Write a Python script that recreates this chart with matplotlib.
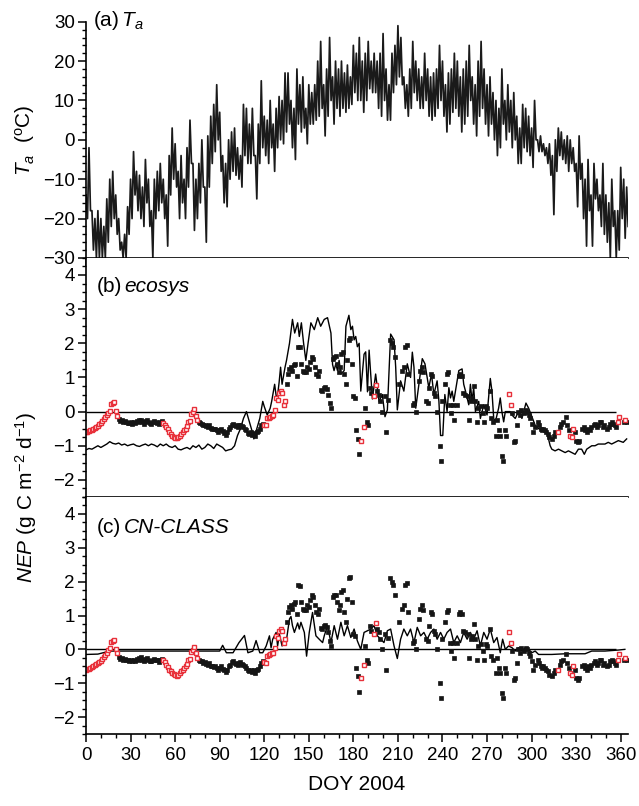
import matplotlib
matplotlib.use('Agg')
import matplotlib.pyplot as plt
from matplotlib.ticker import MultipleLocator
import numpy as np

plt.rcParams['font.family'] = ['Liberation Sans', 'DejaVu Sans']
plt.rcParams['mathtext.fontset'] = 'custom'
plt.rcParams['mathtext.rm'] = 'Liberation Sans'
plt.rcParams['mathtext.it'] = 'Liberation Sans:italic'

# air temperature, 2-day steps: upper and lower envelope
ta_hi = [-14, -2, -18, -20, -18, -20, -22, -15, -10, -8,
         -14, -20, -26, -24, -17, -10, -3, -8, -9, -12,
         -5, -10, -18, -10, -8, -6, -10, -14, -4, 3,
         -1, -8, -4, -10, -2, 5, -6, -10, -6, 0,
         -12, 1, 6, 9, 14, 7, -4, -6, 0, 2,
         3, -2, -4, 9, 8, 4, 8, -4, 4, 15,
         6, 5, 10, 4, 8, 11, 10, 17, 17, 10,
         8, 18, 14, 16, 8, 14, 12, 14, 20, 25,
         14, 18, 26, 16, 20, 18, 20, 17, 19, 16,
         24, 22, 26, 20, 22, 25, 20, 22, 20, 22,
         27, 18, 14, 22, 24, 29, 26, 16, 14, 18,
         25, 20, 18, 16, 22, 18, 16, 17, 18, 24,
         20, 14, 17, 18, 22, 20, 16, 18, 20, 24,
         16, 14, 20, 25, 18, 14, 16, 12, 10, 8,
         18, 10, 14, 10, 12, 6, 3, 9, 8, 6,
         3, 10, 0, 1, -1, -2, -1, -4, 0, 3,
         2, 0, 1, 0, -2, -6, 1, -6, -10, -5,
         -14, -6, -10, -14, -6, -14, -16, -10, -18, -18,
         -7, -10, -12]
ta_lo = [-20, -18, -28, -30, -30, -30, -30, -26, -22, -20,
         -24, -28, -30, -30, -24, -20, -14, -18, -20, -22,
         -16, -22, -30, -20, -18, -16, -20, -27, -14, -10,
         -12, -20, -16, -20, -12, -6, -23, -20, -16, -12,
         -26, -12, -6, -3, 0, -8, -16, -17, -10, -8,
         -9, -10, -12, -4, -6, -6, -4, -15, -6, -2,
         -4, -6, -2, -8, -2, 0, -1, 2, 4, -2,
         -5, 4, 2, 3, -1, 4, 4, 5, 6, 8,
         1, 6, 10, 4, 8, 6, 8, 7, 8, 9,
         12, 10, 10, 7, 10, 13, 12, 12, 8, 6,
         10, 5, 5, 12, 14, 16, 14, 8, 6, 8,
         12, 10, 8, 8, 10, 6, 5, 6, 8, 10,
         6, 2, 4, 7, 8, 6, 2, 4, 6, 10,
         4, 1, 6, 8, 4, 1, 4, 0, -4, -2,
         4, 0, 2, -2, 0, -6, -6, -2, -3, -4,
         -7, 0, -3, -3, -4, -6, -9, -19, -8, -4,
         -5, -6, -8, -6, -8, -17, -10, -20, -27, -18,
         -27, -15, -18, -22, -24, -26, -30, -22, -30, -28,
         -20, -25, -22]

# measured NEP (g C m-2 d-1), daily for DOY 0-181
nep_obs_early = [-0.60, -0.59, -0.57, -0.55, -0.53, -0.50, -0.47, -0.44, -0.41, -0.37,
                 -0.33, -0.28, -0.23, -0.17, -0.10, -0.03, 0.03, 0.22, 0.26, 0.27,
                 0.02, -0.12,
                 -0.22, -0.28, -0.25, -0.30, -0.28, -0.30, -0.32, -0.33, -0.30, -0.35,
                 -0.30, -0.33, -0.28, -0.30, -0.26, -0.24, -0.30, -0.35, -0.28, -0.26,
                 -0.30, -0.33, -0.35, -0.30, -0.27, -0.30, -0.32, -0.36, -0.30, -0.28,
                 -0.32, -0.38, -0.45, -0.52, -0.60, -0.65, -0.70, -0.74, -0.77, -0.78,
                 -0.75, -0.70, -0.65, -0.60, -0.55, -0.50, -0.42, -0.30, -0.28, -0.08,
                 -0.02, 0.07, -0.12, -0.25,
                 -0.30, -0.33, -0.35, -0.40, -0.38, -0.42, -0.45, -0.40, -0.48, -0.50,
                 -0.52, -0.50, -0.55, -0.60, -0.55, -0.50, -0.58, -0.62, -0.68, -0.60,
                 -0.50, -0.45, -0.38, -0.35, -0.40, -0.42, -0.45, -0.40, -0.38, -0.42,
                 -0.45, -0.50, -0.55, -0.62, -0.65, -0.60, -0.68, -0.62, -0.70, -0.60,
                 -0.58, -0.50, -0.40, -0.35,
                 -0.38, -0.40, -0.20, -0.18, -0.15, -0.12, -0.10, 0.05, 0.40, 0.35,
                 0.55, 0.60, 0.55, 0.20, 0.30,
                 0.80, 1.10, 1.25, 1.30, 1.20, 1.35, 1.40, 1.05, 1.90,
                 1.88, 1.40, 1.20, 1.15, 1.17, 1.30, 1.25, 1.45, 1.60, 1.55,
                 1.30, 1.10, 1.05, 1.20, 0.62, 0.60, 0.70, 0.72, 0.65, 0.50,
                 0.25, 0.10, 1.55, 1.60, 1.62, 1.40, 1.15, 1.30, 1.70, 1.75,
                 1.10, 0.80, 1.50, 2.10, 2.15, 1.40, 0.45, 0.40]

# measured NEP after DOY 181
late_day = [182, 183, 184, 185, 187, 188, 189, 190, 191, 192,
            194, 195, 196, 197, 198, 199, 201, 202, 203, 205,
            206, 207, 208, 211, 213, 214, 215, 216, 217, 220,
            221, 222, 224, 225, 226, 227, 229, 230, 231, 232,
            233, 234, 235, 236, 238, 239, 240, 242, 243, 244,
            245, 246, 247, 248, 250, 251, 252, 253, 254, 255,
            257, 258, 259, 260, 261, 262, 263, 264, 266, 267,
            268, 269, 270, 272, 273, 274, 276, 277, 278, 279,
            280, 281, 282, 283, 285, 286, 287, 288, 289, 290,
            291, 292, 293, 295, 296, 297, 298, 299, 300, 301,
            302, 304, 305, 306, 307, 308, 309, 310, 311, 312,
            314, 315, 316, 318, 319, 320, 321, 323, 324, 325,
            326, 327, 328, 329, 330, 331, 332, 334, 335, 336,
            337, 338, 339, 340, 342, 343, 344, 345, 346, 347,
            348, 349, 351, 352, 353, 354, 355, 356, 357, 358,
            359, 362, 363, 364]
nep_obs_late = [-0.55, -0.80, -1.25, -0.85, -0.45, 0.10, -0.30, -0.40, 0.70, 0.55,
                0.45, 0.78, 0.60, 0.50, 0.30, 0.00, 0.45, -0.60, 0.35, 2.10,
                2.00, 1.90, 1.60, 0.80, 1.20, 1.30, 1.90, 1.95, 1.10, 0.20,
                0.25, 0.00, 0.90, 1.20, 1.30, 1.15, 0.30, 0.25, 0.70, 1.10,
                1.05, 0.55, 0.45, 0.00, -1.00, -1.45, 0.30, 0.80, 1.10, 1.15,
                0.20, -0.05, 0.20, -0.25, 0.20, 1.05, 1.10, 1.05, 0.55, 0.50,
                0.45, -0.25, 0.30, 0.40, 0.75, 0.30, -0.30, 0.10, 0.15, -0.05,
                -0.30, 0.15, 0.10, 0.60, -0.20, -0.30, -0.70, -0.25, -0.55, -0.70,
                -1.30, -1.45, -0.55, -0.70, 0.52, 0.20, -0.05, -0.90, -0.85, -0.40,
                0.00, -0.10, 0.05, -0.05, 0.05, 0.00, -0.10, -0.20, -0.35, -0.60,
                -0.45, -0.30, -0.40, -0.50, -0.55, -0.50, -0.55, -0.60, -0.65, -0.75,
                -0.80, -0.70, -0.60, -0.60, -0.45, -0.35, -0.30, -0.15, -0.40, -0.55,
                -0.70, -0.75, -0.50, -0.60, -0.85, -0.90, -0.85, -0.50, -0.45, -0.55,
                -0.60, -0.50, -0.55, -0.45, -0.40, -0.35, -0.45, -0.40, -0.30, -0.30,
                -0.45, -0.40, -0.50, -0.45, -0.35, -0.30, -0.35, -0.40, -0.45, -0.30,
                -0.15, -0.30, -0.25, -0.30]

# days whose NEP is gap-filled (red open squares)
gap_days = (list(range(0, 22)) + list(range(52, 76)) + list(range(120, 135))
            + [185, 187, 194, 195, 285, 286, 318, 326, 327, 328, 358, 359, 363])

# ecosys modelled NEP
eco_day = [0, 2, 4, 6, 8, 10, 12, 14, 16, 18, 20, 22, 24, 26, 28, 30, 32, 34, 36, 38,
           40, 42, 44, 46, 48, 50, 52, 54, 56, 58, 60, 62, 64, 66, 68, 70, 72, 74, 76, 78,
           80, 82, 84, 86, 88, 90, 92, 94, 96, 98, 100, 102, 104, 106, 108, 110, 112, 113,
           115, 117, 119, 120, 122, 124, 125, 127, 128.5, 130, 131, 132, 134, 135, 137,
           139, 140.5, 142.5, 143.6, 145, 146.5, 148, 149.5, 151.4, 153.7, 156, 158,
           160.4, 162.6, 164.9, 166, 167, 168.2, 169.3, 170.4, 171.6, 173.8, 175, 177,
           178.3, 179.4, 180.5, 181.6, 182.7, 183.9, 185, 187.2, 188.3, 189.5, 190.6,
           192.8, 195, 197.3, 199.5, 201.3, 202.9, 205.1, 207.4, 208.5, 209.6, 211.8,
           214, 216.3, 218.5, 219.7, 220.8, 222, 224.1, 226.4, 228.2, 230.8, 232.6,
           234.2, 236.4, 237.6, 238.7, 240.2, 241.6, 243.1, 244.3, 245.4, 246.5, 247.6,
           249.9, 251, 253.2, 254.3, 255.5, 257.7, 258.8, 259.9, 261, 262.2, 264.4,
           265.5, 267.8, 270, 272.2, 273.3, 274.5, 275.6, 277.8, 278.9, 280, 281.2,
           282.3, 285.6, 286.8, 289, 291.2, 293.5, 296.2, 298, 300.2, 302.4, 304.7, 308,
           310.3, 312.5, 313.6, 315.8, 318.1, 320.3, 322.6, 324.8, 327, 329.3, 331.5,
           333.7, 335.5, 337.1, 340.5, 342.7, 344.9, 349.4, 351.6, 353.9, 356.1, 358.4,
           361.7, 364]
eco_nep = [-1.12, -1.08, -1.10, -1.05, -1.00, -1.05, -1.00, -0.95, -0.88, -0.93,
           -0.95, -0.92, -0.98, -0.95, -1.00, -0.97, -0.95, -1.00, -1.02, -0.98,
           -0.95, -1.00, -0.95, -0.98, -1.03, -0.95, -1.00, -0.95, -1.02, -1.05,
           -1.00, -1.10, -1.12, -1.08, -1.05, -1.10, -1.00, -1.05, -0.98, -1.10,
           -1.05, -0.95, -1.00, -1.08, -0.95, -1.00, -1.05, -1.15, -1.12, -1.10,
           -1.00, -0.70, -0.50, -0.20, 0.00, -0.30, -0.60, -0.80,
           -0.50, -0.20, 0.30, 0.15, -0.10, 0.10, 0.30, 0.80, 0.30, 0.85, 1.30, 0.80,
           1.30, 1.50, 2.00, 2.70, 2.30, 2.60, 2.20, 2.60, 2.00, 1.50, 2.00, 2.60,
           2.40, 2.75, 2.50, 2.70, 2.75, 2.30, 1.38, 1.20, 1.40, 1.20, 1.50, 1.10,
           1.20, 2.50, 2.82, 2.40, 2.50, 2.10, 2.20, 1.90, 2.00, 0.60, 1.68, 1.75,
           0.58, 1.80, 0.37, 1.10, 0.30, 0.50, -0.15, 0.05, 2.27, 2.10, 1.30, 0.05,
           0.90, 0.60, 1.40, 1.00, 1.74, 1.30, 0.10, 0.80, 1.55, 1.40, 0.70, 1.10,
           0.50, 0.90, 0.30, -0.70, -0.70, 0.50, 0.00, 0.70, 0.40, 0.60, 0.30, 0.90,
           1.20, 1.25, 0.80, 0.60, 0.20, 0.80, 0.30, 0.70, 0.00, 0.30, -0.20, 0.20,
           -0.10, 0.97, 0.60, -0.20, -0.30, 0.10, 0.40, 0.00, -0.30, 0.00, 0.00,
           -0.10, -0.20, 0.00, -0.20, 0.25, 0.10, -0.15, -0.40, -0.50, -0.55, -0.60,
           -1.00, -1.10, -1.15, -1.10, -1.15, -1.20, -1.15, -1.20, -1.25, -1.10,
           -1.10, -1.25, -1.10, -1.00, -1.00, -0.95, -0.95, -0.90, -0.95, -0.90,
           -0.85, -0.90, -0.80]

# CN-CLASS modelled NEP
cn_day = [0, 8, 16, 30, 45, 60, 75, 90, 92, 94.5, 99, 103, 106.7, 109, 112.3, 114.5,
          117, 119, 121.3, 123.5, 124.6, 125.7, 128, 129, 130.2, 132, 133.5, 134.7,
          137, 138, 139, 140.3, 142.5, 143.6, 144.7, 147, 148.5, 150.3, 152.5, 154.8,
          157, 159.3, 160.4, 162.6, 164.9, 167.1, 169.3, 171.6, 173.8, 176, 178.3,
          180.5, 182.7, 185, 187.2, 189.5, 191.7, 193.9, 196.2, 198.4, 200.6, 202.9,
          205.1, 207.4, 209.6, 211.8, 214, 216.3, 218.5, 220.8, 223, 225.3, 227.5,
          229.7, 232, 234.2, 236.4, 238.7, 240.9, 243.1, 245.4, 247.6, 249.9, 252.1,
          254.3, 256.6, 258.8, 261, 263.3, 265.5, 267.8, 270, 272.2, 274.5, 276.7,
          278.9, 280.5, 282.3, 284.5, 286.8, 289, 291.2, 293.5, 295.7, 298, 300.2,
          302.4, 304.7, 313.6, 322.6, 336, 340.5, 349.4, 358.4, 362.8]
cn_nep = [-0.15, -0.14, -0.05, -0.05, -0.05, -0.05, -0.05, -0.05, 0.12, -0.10, -0.10,
          0.20, 0.41, -0.10, -0.05, 0.26, -0.10, -0.10, 0.10, 0.40, 0.05, 0.30, 0.50,
          0.10, 0.45, 0.10, 0.30, 0.20, 0.90, 0.97, 0.70, 0.50, 0.78, 0.60, 0.80,
          0.50, -0.20, 0.50, 1.09, 0.40, 0.30, 0.20, 0.40, 0.70, 0.20, 0.70, 0.30,
          0.80, 0.40, 0.70, 0.35, 0.60, 0.25, 0.00, 0.50, 0.55, 0.60, 0.70, 0.40,
          0.30, 0.20, 0.55, 0.60, 0.10, -0.27, 0.30, 0.60, 0.40, 0.60, 0.20, 0.65,
          0.40, 0.50, 0.30, 0.50, 0.60, 0.30, 0.50, 0.30, 0.50, 0.60, 0.20, 0.40,
          0.20, 0.50, 0.30, 0.50, 0.30, 0.55, 0.10, 0.50, 0.30, 0.60, 0.20, 0.35,
          -0.10, 0.30, 0.00, 0.10, 0.05, -0.05, 0.05, -0.05, 0.05, 0.00, -0.10,
          -0.05, -0.15, -0.15, -0.13, -0.13, -0.05, -0.05, -0.02, 0.00]

# assemble
ta_day = np.arange(len(ta_hi) * 2)
ta_val = np.column_stack([ta_hi, ta_lo]).ravel()
obs_day = np.array(list(range(len(nep_obs_early))) + late_day)
obs_nep = np.array(nep_obs_early + nep_obs_late)
is_gap = np.isin(obs_day, gap_days)

fig = plt.figure(figsize=(6.39, 8.06), dpi=100)
left, width = 0.1346, 0.8484
ax_a = fig.add_axes([left, 0.680, width, 0.293])
ax_b = fig.add_axes([left, 0.3834, width, 0.2966])
ax_c = fig.add_axes([left, 0.0893, width, 0.2941])

ax_a.plot(ta_day, ta_val, color='#1a1a1a', lw=1.25)
ax_a.set_ylim(-30, 30)
ax_a.set_yticks(range(-30, 31, 10))
ax_a.yaxis.set_minor_locator(MultipleLocator(2))
ax_a.set_ylabel(r'$T_a$  ($^\mathrm{o}$C)', fontsize=15, labelpad=4)
ax_a.text(0.012, 1.005, r'(a)$\,T_a$', transform=ax_a.transAxes, fontsize=15,
          va='center', ha='left')

for ax, mday, mnep in [(ax_b, eco_day, eco_nep), (ax_c, cn_day, cn_nep)]:
    ax.hlines(0, 0, 357, color='black', lw=1.0)
    ax.plot(mday, mnep, color='black', lw=1.0)
    ax.plot(obs_day[~is_gap], obs_nep[~is_gap], 's', color='#151515', ms=3.5,
            mec='#151515', mew=0.5)
    ax.plot(obs_day[is_gap], obs_nep[is_gap], 's', mfc='white', mec='#e8303a',
            ms=3.4, mew=1.0)
    ax.set_ylim(-2.5, 4.5)
    ax.set_yticks(range(-2, 5))
    ax.yaxis.set_minor_locator(MultipleLocator(0.25))

ax_b.text(0.02, 0.882, '(b)', transform=ax_b.transAxes, fontsize=15, va='center')
ax_b.text(0.07, 0.882, 'ecosys', transform=ax_b.transAxes, fontsize=15,
          va='center', style='italic')
ax_c.text(0.02, 0.873, '(c)', transform=ax_c.transAxes, fontsize=15, va='center')
ax_c.text(0.07, 0.873, 'CN-CLASS', transform=ax_c.transAxes, fontsize=15,
          va='center', style='italic')

fig.text(0.04, 0.383, r'$NEP$ (g C m$^{-2}$ d$^{-1}$)', rotation=90, fontsize=15,
         ha='center', va='center')

for ax in [ax_a, ax_b, ax_c]:
    ax.set_xlim(0, 365)
    ax.set_xticks(range(0, 361, 30))
    ax.xaxis.set_minor_locator(MultipleLocator(10))
    ax.spines['right'].set_visible(False)
    ax.spines['top'].set_visible(False)
    for s in ['left', 'bottom']:
        ax.spines[s].set_linewidth(1.2)
    ax.tick_params(which='major', direction='out', length=6, width=1.1, labelsize=13.5)
    ax.tick_params(which='minor', direction='out', length=3, width=1.0)
    ax.tick_params(axis='y', pad=2)

ax_a.tick_params(axis='x', labelbottom=False)
ax_b.tick_params(axis='x', labelbottom=False)
ax_c.set_xlabel('DOY 2004', fontsize=15, labelpad=8)

fig.savefig('out.png', dpi=100)
